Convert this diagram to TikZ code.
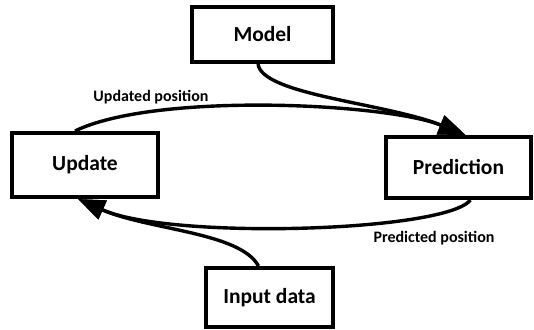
\documentclass[tikz,border=0pt]{standalone}
\usepackage{fontspec}
\setmainfont{Carlito}
\usetikzlibrary{arrows.meta}
\tikzset{
  box/.style={draw=black, line width=4pt, fill=white, inner sep=0pt,
    font=\fontsize{21.5}{24}\selectfont\bfseries},
  flow/.style={line width=3.4pt, -{Triangle[length=27pt,width=20pt]}},
  lbl/.style={font=\fontsize{16}{18}\selectfont\bfseries, inner sep=0pt}
}
\begin{document}
\begin{tikzpicture}[x=1pt,y=-1pt]
\useasboundingbox[fill=white] (0,0) rectangle (534,329);
\node[box, minimum width=141pt, minimum height=55pt] (model) at (262.5,34.5) {Model};
\node[box, minimum width=146pt, minimum height=64pt] (update) at (85,165) {Update};
\node[box, minimum width=145pt, minimum height=61pt] (pred) at (458.5,167.5) {Prediction};
\node[box, minimum width=127pt, minimum height=59pt] (input) at (269.5,297.5) {Input data};
\node[lbl] (lup) at (151,97) {Updated position};
\node[lbl] (lpr) at (434,238) {Predicted position};
% upper connectors
\draw[flow] ([xshift=-4.5pt]model.south) .. controls (262,95) and (386,103) .. ([xshift=7pt]pred.north);
\draw[flow] ([xshift=-10pt]update.north) .. controls (155,92) and (386,103) .. ([xshift=7pt]pred.north);
% lower connectors
\draw[flow] ([xshift=12pt]pred.south) .. controls (445,232) and (170,240) .. ([xshift=-7pt]update.south);
\draw[flow] ([xshift=-11pt]input.north) .. controls (240,232) and (148,230) .. ([xshift=-7pt]update.south);
\end{tikzpicture}
\end{document}
